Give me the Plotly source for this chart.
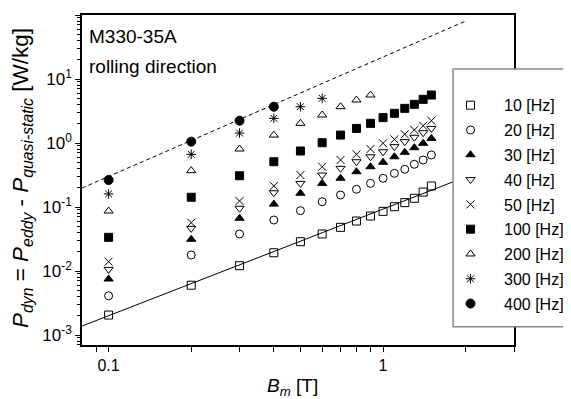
import plotly.graph_objects as go

B = [0.1, 0.2, 0.3, 0.4, 0.5, 0.6, 0.7, 0.8, 0.9, 1.0, 1.1, 1.2, 1.3, 1.4, 1.5]

P10 = [0.00205, 0.0060, 0.0121, 0.0193, 0.0287, 0.0379, 0.0481, 0.0604, 0.0723, 0.0855, 0.101, 0.117, 0.137, 0.171, 0.213]
P20 = [0.0041, 0.0178, 0.0379, 0.0626, 0.0877, 0.121, 0.154, 0.189, 0.234, 0.281, 0.336, 0.388, 0.465, 0.543, 0.65]
P30 = [0.0075, 0.0313, 0.0666, 0.111, 0.164, 0.234, 0.281, 0.356, 0.426, 0.50, 0.61, 0.715, 0.845, 0.99, 1.18]
P40 = [0.0106, 0.0464, 0.0955, 0.167, 0.234, 0.316, 0.402, 0.51, 0.61, 0.73, 0.877, 1.05, 1.23, 1.45, 1.69]
P50 = [0.0140, 0.0569, 0.124, 0.213, 0.316, 0.426, 0.543, 0.665, 0.806, 0.99, 1.14, 1.37, 1.60, 1.86, 2.23]
P100 = [0.0336, 0.142, 0.308, 0.51, 0.75, 1.01, 1.33, 1.69, 2.03, 2.49, 2.91, 3.48, 4.02, 4.81, 5.62]
B200 = [0.1, 0.2, 0.3, 0.4, 0.5, 0.6, 0.7, 0.8, 0.9]
P200 = [0.0866, 0.37, 0.806, 1.33, 2.03, 2.74, 3.69, 4.70, 5.62]
B300 = [0.1, 0.2, 0.3, 0.4, 0.5, 0.6]
P300 = [0.16, 0.665, 1.43, 2.43, 3.69, 4.99]
B400 = [0.1, 0.2, 0.3, 0.4]
P400 = [0.264, 1.05, 2.23, 3.69]

fit_B = [0.08, 2.0]
fit_low = [0.00138, 0.295]
fit_high = [0.198, 80.5]

series = [
    ("10 [Hz]", B, P10, "square-open"),
    ("20 [Hz]", B, P20, "circle-open"),
    ("30 [Hz]", B, P30, "triangle-up"),
    ("40 [Hz]", B, P40, "triangle-down-open"),
    ("50 [Hz]", B, P50, "x-thin-open"),
    ("100 [Hz]", B, P100, "square"),
    ("200 [Hz]", B200, P200, "triangle-up-open"),
    ("300 [Hz]", B300, P300, "asterisk-open"),
    ("400 [Hz]", B400, P400, "circle"),
]

ytick_vals = [1e-3, 1e-2, 1e-1, 1, 10, 100]
ytick_text = ["10<sup>-3</sup>", "10<sup>-2</sup>", "10<sup>-1</sup>", "10<sup>0</sup>", "10<sup>1</sup>", "10<sup>2</sup>"]
xtick_vals = [0.1, 1]
xtick_text = ["0.1", "1"]

FONT = "Liberation Sans, Arial, Helvetica, sans-serif"

fig = go.Figure()
fig.add_trace(go.Scatter(x=fit_B, y=fit_low, mode="lines", line=dict(color="black", width=1), showlegend=False))
fig.add_trace(go.Scatter(x=fit_B, y=fit_high, mode="lines", line=dict(color="black", width=1, dash="4px,3px"), showlegend=False))

for name, xs, ys, sym in series:
    sz = 9 if sym == "circle" else 8
    fig.add_trace(go.Scatter(
        x=xs, y=ys, mode="markers", name=name, legendgroup=name,
        marker=dict(symbol=sym, size=sz, color="black", line=dict(color="black", width=1)),
    ))

y_minor = [m * 10 ** e for e in range(-4, 2) for m in range(2, 10)]
x_minor = [0.09, 0.2, 0.3, 0.4, 0.5, 0.6, 0.7, 0.8, 0.9, 2, 3]

# page body has an 8px default margin; figure size/margins compensate for it
fig.update_layout(
    width=563, height=391,
    margin=dict(l=74, r=57, t=7, b=54, autoexpand=False),
    paper_bgcolor="white", plot_bgcolor="white",
    font=dict(family=FONT, size=15, color="black"),
    showlegend=True,
    legend=dict(
        x=0.8218, xanchor="left", y=0.778, yanchor="top",
        bgcolor="rgba(0,0,0,0)", borderwidth=0,
        font=dict(size=16, family=FONT),
        itemwidth=57, tracegroupgap=1,
    ),
    xaxis=dict(
        type="log", range=[-1.0969, 0.4771], automargin=False,
        showgrid=False, zeroline=False,
        showline=True, linecolor="black", linewidth=1.5, mirror=True,
        ticks="outside", ticklen=5, tickwidth=1, tickcolor="black",
        tickmode="array", tickvals=xtick_vals, ticktext=xtick_text,
        tickfont=dict(size=16),
        minor=dict(tickmode="array", tickvals=x_minor, ticks="outside", ticklen=5, tickwidth=1, tickcolor="black"),
    ),
    yaxis=dict(
        type="log", range=[-3.156, 2.0], automargin=False,
        showgrid=False, zeroline=False,
        showline=True, linecolor="black", linewidth=1.5, mirror=True,
        ticks="outside", ticklen=5, tickwidth=1, tickcolor="black",
        tickmode="array", tickvals=ytick_vals, ticktext=ytick_text,
        tickfont=dict(size=17),
        minor=dict(tickmode="array", tickvals=y_minor, ticks="outside", ticklen=3, tickwidth=1, tickcolor="black"),
    ),
    shapes=[dict(type="rect", xref="paper", yref="paper", x0=0.859, x1=1.2, y0=0.055, y1=0.836,
                 fillcolor="white", line=dict(color="#888888", width=1.5), layer="above")],
    annotations=[
        dict(text="M330-35A", xref="paper", yref="paper", x=0.012, y=0.936, xanchor="left", yanchor="middle",
             showarrow=False, font=dict(size=19)),
        dict(text="rolling direction", xref="paper", yref="paper", x=0.012, y=0.845, xanchor="left", yanchor="middle",
             showarrow=False, font=dict(size=19)),
        dict(text="<i>P</i><sub><i>dyn</i></sub> = <i>P</i><sub><i>eddy</i></sub> - <i>P</i><sub><i>quasi-static</i></sub> [W/kg]",
             xref="paper", yref="paper", x=-0.139, y=0.506, xanchor="center", yanchor="middle",
             textangle=-90, showarrow=False, font=dict(size=22.5)),
        dict(text="<i>B</i><sub><i>m</i></sub> [T]", xref="paper", yref="paper", x=0.488, y=-0.127,
             xanchor="center", yanchor="middle", showarrow=False, font=dict(size=19)),
    ],
)

fig.write_html("out.html")
